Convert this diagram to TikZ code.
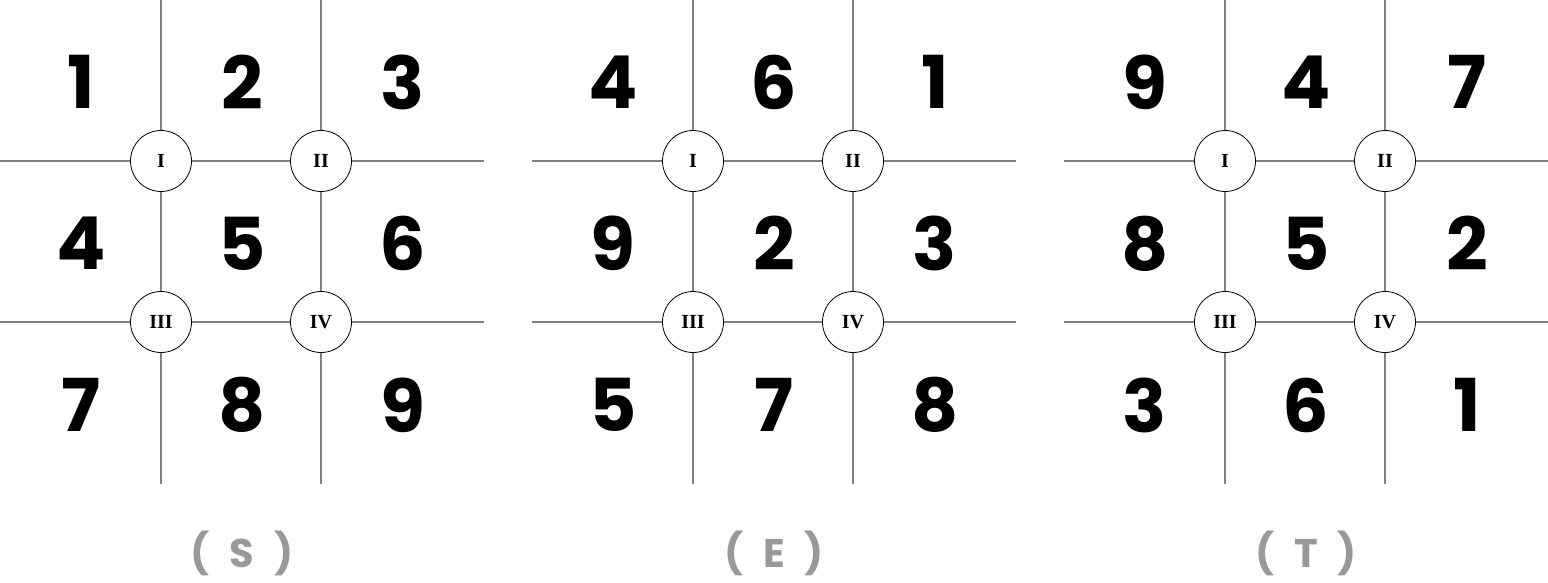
\documentclass[tikz,border=0pt]{standalone}
\usepackage{fontspec}
\newfontfamily\digitfont{Poppins}[UprightFont=* Bold]
\newfontfamily\romanfont{Liberation Serif}[UprightFont=* Bold]
\definecolor{gridgray}{HTML}{808080}
\definecolor{labgray}{HTML}{999999}
\tikzset{
  gridline/.style={draw=gridgray, line width=1.4pt},
  junction/.style={circle, draw=black, line width=0.8pt, fill=white, minimum size=61pt, inner sep=0pt, font=\romanfont\fontsize{20}{20}\selectfont},
  digit/.style={font=\digitfont\fontsize{73}{73}\selectfont, text=black, inner sep=0pt},
  caption/.style={font=\digitfont\fontsize{40}{40}\selectfont, text=labgray, inner sep=0pt},
}
\begin{document}
\begin{tikzpicture}[x=1pt,y=-1pt]
\useasboundingbox (0,0) rectangle (1548,583);
\foreach \g/\ox/\lab/\nums in {1/0/S/{1,2,3,4,5,6,7,8,9}, 2/532/E/{4,6,1,9,2,3,5,7,8}, 3/1064/T/{9,4,7,8,5,2,3,6,1}} {
  \begin{scope}[xshift=\ox pt]
    \coordinate (g\g t1) at (161,0);
    \coordinate (g\g t2) at (321,0);
    \coordinate (g\g b1) at (161,484);
    \coordinate (g\g b2) at (321,484);
    \coordinate (g\g l1) at (0,161);
    \coordinate (g\g l2) at (0,322);
    \coordinate (g\g r1) at (484,161);
    \coordinate (g\g r2) at (484,322);
    \node[junction] (g\g J1) at (161,161) {I};
    \node[junction] (g\g J2) at (321,161) {II};
    \node[junction] (g\g J3) at (161,322) {III};
    \node[junction] (g\g J4) at (321,322) {IV};
    \draw[gridline] (g\g t1) -- (g\g J1) -- (g\g J3) -- (g\g b1);
    \draw[gridline] (g\g t2) -- (g\g J2) -- (g\g J4) -- (g\g b2);
    \draw[gridline] (g\g l1) -- (g\g J1) -- (g\g J2) -- (g\g r1);
    \draw[gridline] (g\g l2) -- (g\g J3) -- (g\g J4) -- (g\g r2);
    \foreach \n [count=\k from 0] in \nums {
      \pgfmathtruncatemacro{\col}{mod(\k,3)}
      \pgfmathtruncatemacro{\row}{div(\k,3)}
      \node[digit] (g\g n\k) at ({81+161*\col},{82+161.5*\row}) {\n};
    }
    \node[caption] (g\g cap) at (242,553) {(\hspace{0.5em}\lab\hspace{0.5em})};
  \end{scope}
}
\end{tikzpicture}
\end{document}
